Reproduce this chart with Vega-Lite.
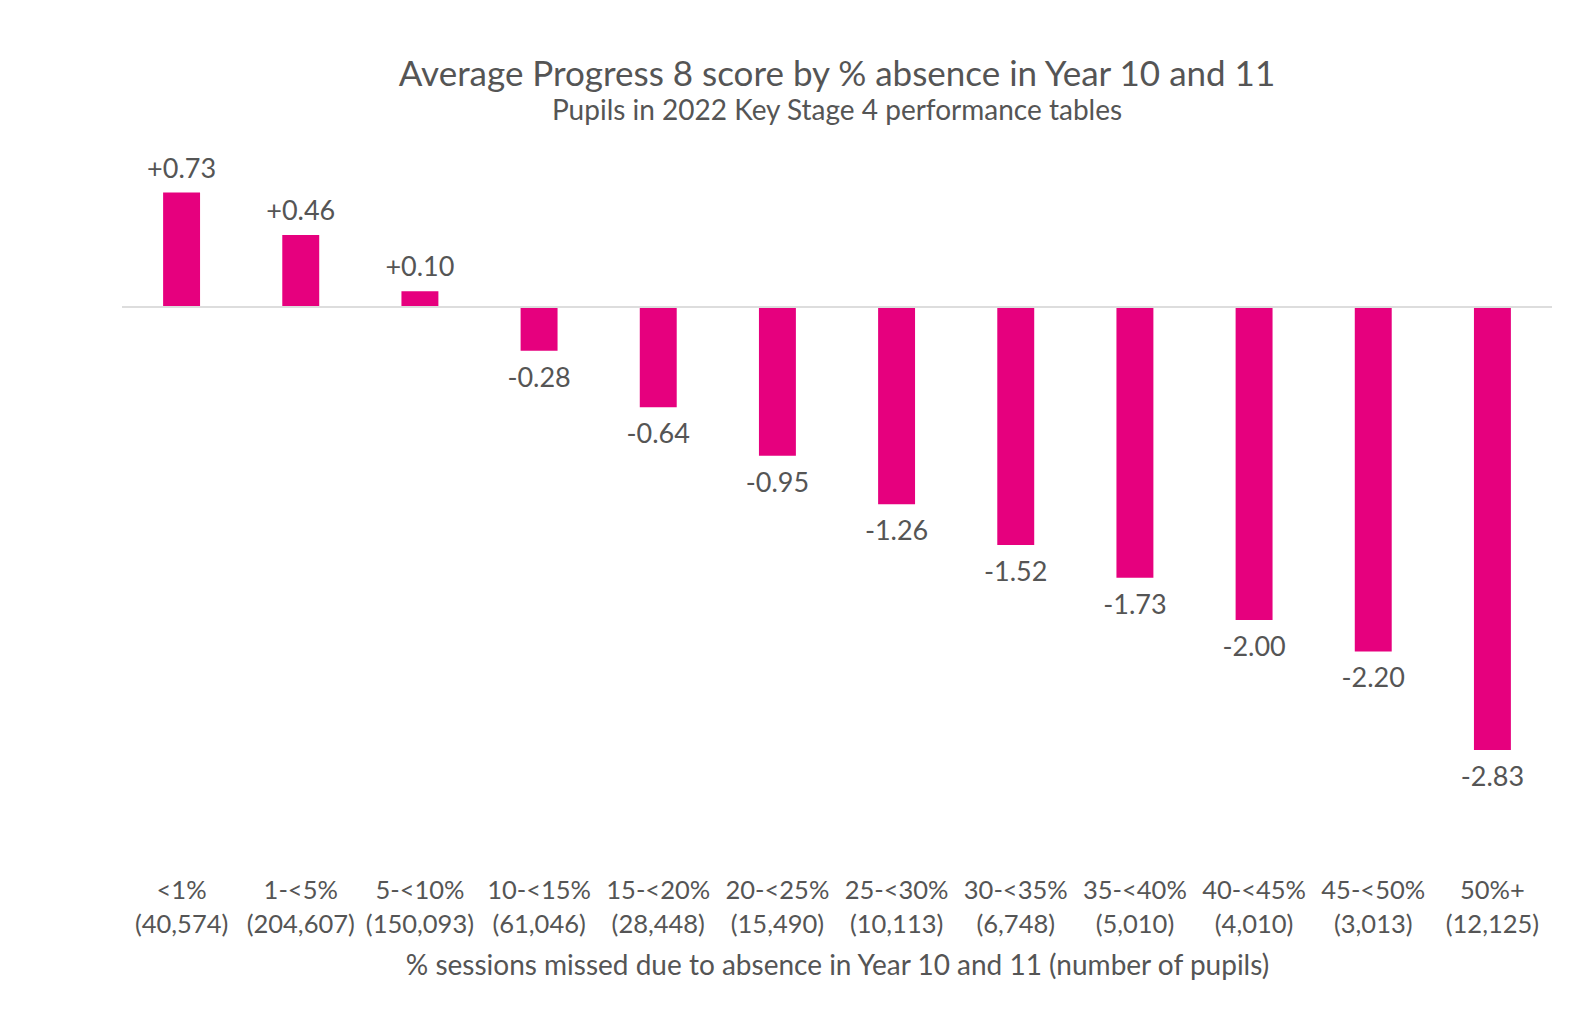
{
  "$schema": "https://vega.github.io/schema/vega-lite/v6.json",
  "autosize": "none",
  "width": 1430,
  "height": 642,
  "padding": {"left": 122, "right": 42, "top": 166, "bottom": 207},
  "background": "white",
  "config": {"view": {"stroke": null}, "font": "Lato"},
  "title": {
    "text": "Average Progress 8 score by % absence in Year 10 and 11",
    "subtitle": "Pupils in 2022 Key Stage 4 performance tables",
    "fontSize": 35,
    "fontWeight": "normal",
    "color": "#555555",
    "subtitleFontSize": 28,
    "subtitleColor": "#555555",
    "subtitlePadding": 5,
    "anchor": "middle",
    "offset": 30
  },
  "data": {
    "values": [
      {"band": "<1%|(40,574)", "score": 0.73},
      {"band": "1-<5%|(204,607)", "score": 0.46},
      {"band": "5-<10%|(150,093)", "score": 0.10},
      {"band": "10-<15%|(61,046)", "score": -0.28},
      {"band": "15-<20%|(28,448)", "score": -0.64},
      {"band": "20-<25%|(15,490)", "score": -0.95},
      {"band": "25-<30%|(10,113)", "score": -1.26},
      {"band": "30-<35%|(6,748)", "score": -1.52},
      {"band": "35-<40%|(5,010)", "score": -1.73},
      {"band": "40-<45%|(4,010)", "score": -2.00},
      {"band": "45-<50%|(3,013)", "score": -2.20},
      {"band": "50%+|(12,125)", "score": -2.83}
    ]
  },
  "transform": [
    {"calculate": "(datum.score > 0 ? '+' : '') + replace(format(datum.score, '.2f'), '\u2212', '-')", "as": "lbl"}
  ],
  "encoding": {
    "x": {
      "field": "band",
      "type": "nominal",
      "sort": null,
      "scale": {"paddingInner": 0.69, "paddingOuter": 0.345},
      "axis": {
        "title": "% sessions missed due to absence in Year 10 and 11 (number of pupils)",
        "labelExpr": "split(datum.label, '|')",
        "labelAngle": 0,
        "labelFontSize": 25.5,
        "labelLineHeight": 34,
        "labelColor": "#555555",
        "labelPadding": 70,
        "titleFontSize": 28,
        "titleFontWeight": "normal",
        "titleColor": "#555555",
        "titlePadding": 15,
        "ticks": false,
        "domain": false
      }
    },
    "y": {
      "field": "score",
      "type": "quantitative",
      "scale": {"domain": [-3.2, 0.9], "nice": false},
      "axis": null
    }
  },
  "layer": [
    {"mark": {"type": "bar", "color": "#E6007E"}},
    {
      "mark": {"type": "rule", "color": "#dddddd", "strokeWidth": 1.5},
      "encoding": {"x": null, "y": {"datum": 0, "type": "quantitative"}}
    },
    {
      "transform": [{"filter": "datum.score > 0"}],
      "mark": {"type": "text", "baseline": "middle", "dy": -23, "fontSize": 27, "color": "#555555"},
      "encoding": {"text": {"field": "lbl"}}
    },
    {
      "transform": [{"filter": "datum.score < 0"}],
      "mark": {"type": "text", "baseline": "middle", "dy": 28, "fontSize": 27, "color": "#555555"},
      "encoding": {"text": {"field": "lbl"}}
    }
  ]
}
